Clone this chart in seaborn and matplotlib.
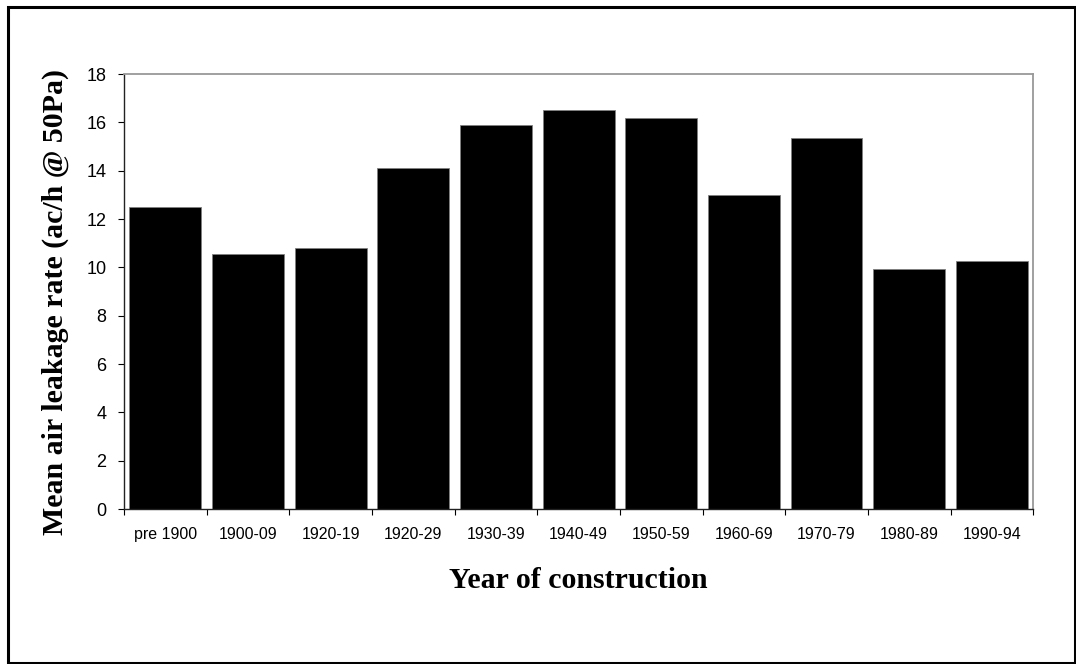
import matplotlib
matplotlib.use("Agg")
import matplotlib.pyplot as plt
import numpy as np
import pandas as pd
import seaborn as sns
from matplotlib.patches import Rectangle

periods = ["pre 1900", "1900-09", "1920-19", "1920-29", "1930-39", "1940-49",
           "1950-59", "1960-69", "1970-79", "1980-89", "1990-94"]
leakage = [12.5, 10.55, 10.8, 14.1, 15.9, 16.5, 16.2, 13.0, 15.35, 9.95, 10.25]
y_ticks = [0, 2, 4, 6, 8, 10, 12, 14, 16, 18]

df = pd.DataFrame({"period": periods, "leakage": leakage})

sns.set_style("white")
plt.rcParams["font.family"] = ["Liberation Sans", "DejaVu Sans"]
plt.rcParams["text.color"] = "black"
plt.rcParams["axes.labelcolor"] = "black"
plt.rcParams["xtick.color"] = "black"
plt.rcParams["ytick.color"] = "black"

fig = plt.figure(figsize=(10.76, 6.64), dpi=100)
ax = fig.add_axes([0.1152, 0.2334, 0.845, 0.655])

sns.barplot(data=df, x="period", y="leakage", color="black", width=0.87,
            edgecolor="#808080", linewidth=0.6, saturation=1, ax=ax)

ax.set_ylim(0, 18)
ax.set_xlim(-0.5, len(periods) - 0.5)
ax.set_yticks(y_ticks)
ax.tick_params(axis="y", labelsize=13, length=4.5, width=0.8,
               direction="out", left=True, pad=8)
ax.tick_params(axis="x", which="major", labelsize=11.5, length=0, pad=13)
# tick marks sit between the categories
ax.set_xticks(np.arange(len(periods) + 1) - 0.5, minor=True)
ax.tick_params(axis="x", which="minor", length=4.5, width=0.8,
               direction="out", bottom=True)

for side in ["left", "bottom"]:
    ax.spines[side].set_color("#222222")
    ax.spines[side].set_linewidth(1.0)
for side in ["top", "right"]:
    ax.spines[side].set_visible(True)
    ax.spines[side].set_color("#999999")
    ax.spines[side].set_linewidth(1.3)

ax.set_xlabel("Year of construction", family=["Liberation Serif"],
              fontweight="bold", fontsize=21.5, labelpad=18)
ax.set_ylabel("Mean air leakage rate (ac/h @ 50Pa)", family=["Liberation Serif"],
              fontweight="bold", fontsize=21.5)
ax.yaxis.set_label_coords(-0.06, 0.476)

fig.patches.append(Rectangle((0.0075, 0.0015), 0.9915, 0.9880, transform=fig.transFigure,
                             fill=False, edgecolor="black", linewidth=2.2))

fig.savefig("out.png", dpi=100)
